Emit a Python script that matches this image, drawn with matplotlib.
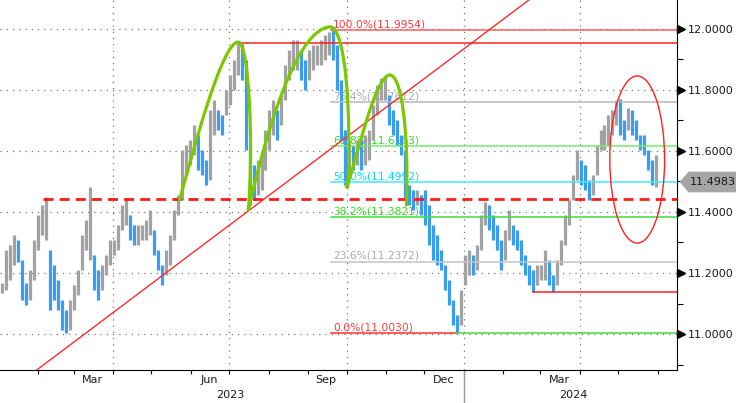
import matplotlib
matplotlib.use("Agg")
import matplotlib.pyplot as plt
import matplotlib.dates as mdates
from matplotlib.path import Path
from matplotlib.patches import PathPatch, Ellipse, Polygon
from matplotlib.transforms import blended_transform_factory
import numpy as np
import pandas as pd

# bar ranges (one bar ~ every 2 trading days)
bar_start, bar_end = "2023-01-04", "2024-05-31"
bar_high = [
    11.167, 11.275, 11.292, 11.325, 11.308, 11.243, 11.167, 11.210, 11.308, 11.390,
    11.423, 11.449, 11.275, 11.226, 11.177, 11.111, 11.079, 11.111, 11.161, 11.210,
    11.325, 11.374, 11.482, 11.259, 11.210, 11.226, 11.259, 11.308, 11.308, 11.357,
    11.423, 11.439, 11.390, 11.357, 11.357, 11.357, 11.374, 11.407, 11.341, 11.275,
    11.226, 11.275, 11.325, 11.407, 11.456, 11.603, 11.620, 11.636, 11.685, 11.652,
    11.603, 11.570, 11.734, 11.767, 11.734, 11.718, 11.800, 11.849, 11.898, 11.955,
    11.950, 11.898, 11.620, 11.554, 11.570, 11.587, 11.669, 11.734, 11.767, 11.734,
    11.784, 11.882, 11.931, 11.964, 11.964, 11.931, 11.898, 11.931, 11.948, 11.948,
    11.964, 11.980, 11.990, 11.9954, 11.948, 11.833, 11.669, 11.636, 11.620, 11.636,
    11.636, 11.652, 11.669, 11.751, 11.816, 11.839, 11.846, 11.784, 11.734, 11.702,
    11.652, 11.603, 11.489, 11.472, 11.472, 11.456, 11.472, 11.423, 11.357, 11.325,
    11.275, 11.226, 11.177, 11.111, 11.062, 11.144, 11.259, 11.275, 11.259, 11.292,
    11.390, 11.433, 11.423, 11.390, 11.357, 11.308, 11.341, 11.407, 11.357, 11.341,
    11.308, 11.259, 11.226, 11.210, 11.226, 11.226, 11.275, 11.243, 11.193, 11.243,
    11.308, 11.390, 11.439, 11.521, 11.603, 11.570, 11.554, 11.505, 11.521, 11.620,
    11.669, 11.685, 11.718, 11.734, 11.767, 11.770, 11.702, 11.741, 11.734, 11.702,
    11.652, 11.652, 11.603, 11.570, 11.587,
]
bar_low = [
    11.134, 11.144, 11.177, 11.226, 11.236, 11.111, 11.095, 11.111, 11.177, 11.275,
    11.325, 11.308, 11.079, 11.111, 11.079, 11.013, 11.003, 11.013, 11.079, 11.128,
    11.210, 11.275, 11.243, 11.144, 11.111, 11.144, 11.193, 11.226, 11.259, 11.275,
    11.341, 11.357, 11.308, 11.292, 11.292, 11.308, 11.308, 11.325, 11.259, 11.210,
    11.161, 11.193, 11.226, 11.308, 11.390, 11.439, 11.521, 11.554, 11.587, 11.538,
    11.521, 11.489, 11.505, 11.652, 11.669, 11.652, 11.718, 11.751, 11.800, 11.849,
    11.833, 11.603, 11.423, 11.439, 11.456, 11.472, 11.538, 11.603, 11.652, 11.636,
    11.685, 11.767, 11.833, 11.866, 11.866, 11.833, 11.800, 11.833, 11.866, 11.882,
    11.882, 11.898, 11.915, 11.898, 11.800, 11.636, 11.489, 11.538, 11.538, 11.554,
    11.538, 11.554, 11.570, 11.636, 11.718, 11.767, 11.767, 11.685, 11.652, 11.620,
    11.587, 11.439, 11.423, 11.407, 11.423, 11.390, 11.357, 11.292, 11.243, 11.226,
    11.210, 11.144, 11.095, 11.030, 11.003, 11.030, 11.161, 11.193, 11.193, 11.210,
    11.275, 11.357, 11.341, 11.308, 11.275, 11.210, 11.243, 11.308, 11.292, 11.275,
    11.226, 11.193, 11.161, 11.138, 11.161, 11.177, 11.177, 11.161, 11.138, 11.161,
    11.226, 11.292, 11.357, 11.439, 11.505, 11.489, 11.472, 11.439, 11.456, 11.521,
    11.603, 11.603, 11.620, 11.652, 11.685, 11.652, 11.636, 11.669, 11.652, 11.636,
    11.603, 11.587, 11.538, 11.489, 11.482,
]
last_price = 11.4983

# fibonacci retracement (Sep high -> Dec low)
fib_labels = ["100.0%", "76.4%", "61.8%", "50.0%", "38.2%", "23.6%", "0.0%"]
fib_levels = [11.9954, 11.7612, 11.6163, 11.4992, 11.3821, 11.2372, 11.0030]
fib_text_colors = ["#ff3b3b", "#aaaaaa", "#33dd22", "#00e0f0", "#33dd22", "#aaaaaa", "#ff3b3b"]
fib_line_colors = ["#ff6060", "#b8b8b8", "#70ee70", "#40eaff", "#40dd40", "#c4c4c4", "#ff3030"]
fib_start = "2023-09-19"
fib_low_date = "2023-12-27"

# hand drawn levels
neck_level, neck_start = 11.444, "2023-02-05"
top_level, top_start = 11.955, "2023-07-08"
low_level, low_start = 11.138, "2024-02-24"
trend_a = ("2023-01-31", 10.882)
trend_b = ("2024-02-21", 12.095)

# green arcs: start, ctrl, ctrl, peak, ctrl, ctrl, end
arcs = [
    [("2023-05-23", 11.439), ("2023-06-02", 11.587), ("2023-06-25", 11.957), ("2023-07-08", 11.957),
     ("2023-07-17", 11.957), ("2023-07-20", 11.603), ("2023-07-16", 11.407)],
    [("2023-07-16", 11.407), ("2023-07-25", 11.570), ("2023-08-19", 11.997), ("2023-09-18", 12.007),
     ("2023-09-30", 12.007), ("2023-10-05", 11.734), ("2023-10-02", 11.482)],
    [("2023-10-01", 11.482), ("2023-10-08", 11.554), ("2023-10-23", 11.849), ("2023-11-04", 11.849),
     ("2023-11-13", 11.849), ("2023-11-19", 11.669), ("2023-11-17", 11.423)],
]
ell_center = ("2024-05-16", 11.572)
ell_width_days, ell_height = 43, 0.548

month_labels = ["Mar", "Jun", "Sep", "Dec", "Mar"]
month_label_dates = ["2023-03-16", "2023-06-15", "2023-09-15", "2023-12-16", "2024-03-16"]
year_labels = ["2023", "2024"]
year_label_dates = ["2023-07-02", "2024-03-27"]
quarter_lines = ["2023-04-01", "2023-07-01", "2023-10-01", "2024-01-01", "2024-04-01"]

plt.rcParams["font.family"] = "DejaVu Sans"

fig = plt.figure(figsize=(7.36, 4.03), dpi=100)
ax = fig.add_axes([0, 1 - 370 / 403, 677 / 736, 370 / 403])
xmin = pd.Timestamp("2023-01-02 05:00")
xmax = pd.Timestamp("2024-06-16 05:00")
ax.set_xlim(xmin, xmax)
ax.set_ylim(10.882, 12.095)

# grid
for v in np.arange(11.0, 12.01, 0.2):
    ax.axhline(v, color="#777777", lw=0.9, ls=(0, (1, 4)), zorder=1)
for d in quarter_lines:
    ax.axvline(pd.Timestamp(d), color="#777777", lw=0.9, ls=(0, (1, 4)), zorder=1)

# fib labels (under the bars)
for lab, lev, tc in zip(fib_labels, fib_levels, fib_text_colors):
    ax.annotate(f"{lab}({lev:.4f})", (pd.Timestamp(fib_start), lev), xytext=(1.5, 0.5),
                textcoords="offset points", color=tc, fontsize=7.7, va="bottom", ha="left", zorder=2)

# price bars
dates = pd.date_range(bar_start, bar_end, periods=len(bar_high))
hi = np.array(bar_high)
lo = np.array(bar_low)
mid = (hi + lo) / 2
cols = ["#a2a2a2"] + ["#3a9cf2" if mid[i] < mid[i - 1] else "#a2a2a2" for i in range(1, len(mid))]
ax.vlines(dates, lo, hi, colors=cols, lw=2.3, zorder=3)

# fib lines
for lev, lc, lab in zip(fib_levels, fib_line_colors, fib_labels):
    if lab == "0.0%":
        ax.plot([pd.Timestamp(fib_start), pd.Timestamp(fib_low_date)], [lev, lev], color=lc, lw=1.1, zorder=4)
        ax.plot([pd.Timestamp(fib_low_date), xmax], [lev, lev], color="#44dd44", lw=1.1, zorder=4)
    else:
        ax.plot([pd.Timestamp(fib_start), xmax], [lev, lev], color=lc, lw=1.1, zorder=4)

# drawn levels
ax.plot([pd.Timestamp(neck_start), xmax], [neck_level] * 2, color="#ff1a1a", lw=2.0,
        ls=(0, (3.6, 2.2)), zorder=5)
ax.plot([pd.Timestamp(top_start), xmax], [top_level] * 2, color="#ff2020", lw=1.1, zorder=4)
ax.plot([pd.Timestamp(low_start), xmax], [low_level] * 2, color="#ff2020", lw=1.1, zorder=4)
ax.plot([pd.Timestamp(trend_a[0]), pd.Timestamp(trend_b[0])], [trend_a[1], trend_b[1]],
        color="#ff2a2a", lw=1.0, zorder=5)

# arcs
codes = [Path.MOVETO] + [Path.CURVE4] * 6
for arc in arcs:
    verts = [(mdates.date2num(pd.Timestamp(d)), v) for d, v in arc]
    ax.add_patch(PathPatch(Path(verts, codes), fill=False, edgecolor="#7cc800", lw=2.3,
                           capstyle="round", zorder=6))

ax.add_patch(Ellipse((mdates.date2num(pd.Timestamp(ell_center[0])), ell_center[1]),
                     ell_width_days, ell_height, fill=False, edgecolor="#ff2020", lw=1.0, zorder=6))

# axes styling
for s in ["top", "left"]:
    ax.spines[s].set_visible(False)
ax.spines["right"].set_color("black")
ax.spines["bottom"].set_color("black")

ax.yaxis.tick_right()
yt = np.arange(11.0, 12.01, 0.2)
ax.set_yticks(yt)
ax.set_yticklabels([f"{v:.4f}" for v in yt], fontsize=8, color="#1a1a1a")
ax.tick_params(axis="y", which="major", length=0, pad=7.5)
ax.set_yticks(np.arange(10.9, 12.0, 0.2), minor=True)
ax.tick_params(axis="y", which="minor", length=4.5, width=0.8, direction="out")

btrans = blended_transform_factory(ax.transAxes, ax.transData)
ax.plot([1.0065] * len(yt), yt, ls="none", marker=">", ms=5.5, color="black",
        transform=btrans, clip_on=False, zorder=7)

# last price tag
h = 0.034
tag = Polygon([(1.004, last_price), (1.017, last_price + h), (1.09, last_price + h),
               (1.09, last_price - h), (1.017, last_price - h)], closed=True,
              facecolor="#a5a5a5", edgecolor="none", transform=btrans, clip_on=False, zorder=7)
ax.add_patch(tag)
ax.text(1.0185, last_price, f"{last_price:.4f}", transform=btrans, fontsize=8, color="#1a1a1a",
        va="center", ha="left", clip_on=False, zorder=8)

# x axis
ax.xaxis.set_major_locator(mdates.MonthLocator())
ax.xaxis.set_major_formatter(plt.NullFormatter())
ax.tick_params(axis="x", which="major", length=3, width=0.8, direction="out")
xtrans = blended_transform_factory(ax.transData, ax.transAxes)
for lab, d in zip(month_labels, month_label_dates):
    ax.text(pd.Timestamp(d), -0.028, lab, transform=xtrans, fontsize=8, color="#1a1a1a",
            ha="center", va="center")
for lab, d in zip(year_labels, year_label_dates):
    ax.text(pd.Timestamp(d), -0.068, lab, transform=xtrans, fontsize=8, color="#1a1a1a",
            ha="center", va="center")
ax.plot([pd.Timestamp("2024-01-01")] * 2, [0, -0.095], transform=xtrans, color="#999999",
        lw=1.0, clip_on=False)

fig.savefig("out.png", dpi=100)
